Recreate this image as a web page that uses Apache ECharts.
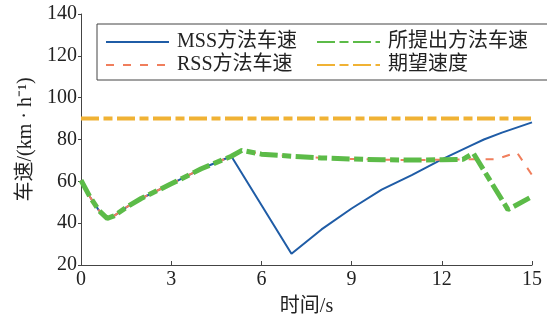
<!DOCTYPE html>
<html>
<head>
<meta charset="utf-8">
<script src="https://cdn.jsdelivr.net/npm/echarts@6/dist/echarts.min.js"></script>
<style>
  html, body { margin: 0; padding: 0; background: #fff; }
  #chart { width: 547px; height: 326px; }
</style>
</head>
<body>
<div id="chart"></div>
<script>
// Vehicle speed over time for three control methods plus the target speed
const seriesNames = ['MSS方法车速', '所提出方法车速', 'RSS方法车速', '期望速度'];

const mssTime  = [0, 0.3, 0.6, 0.87, 1.1, 1.5, 2, 3, 4, 5.0, 7.0, 8, 9, 10, 11, 12, 13, 13.4, 14, 15];
const mssSpeed = [60.5, 52.5, 46, 42.3, 43.5, 47.5, 51.8, 58.8, 66, 72, 25.4, 37, 47, 56, 63, 70.5, 77.3, 80, 83.3, 88.2];

const propTime  = [0, 0.3, 0.6, 0.87, 1.1, 1.5, 2, 3, 4, 5, 5.35, 6, 7, 8, 9, 10, 11, 12, 12.7, 13.05, 14.2, 15];
const propSpeed = [60.5, 52.5, 46, 42.3, 43.5, 47.5, 51.8, 58.8, 66, 72, 74.8, 73, 72, 71.2, 70.7, 70.3, 70.2, 70.3, 70.5, 73.4, 46.5, 52.7];

const rssTime  = [0, 0.3, 0.6, 0.87, 1.1, 1.5, 2, 3, 4, 5, 5.35, 6, 7, 8, 9, 10, 11, 12, 12.7, 13.8, 14.5, 15];
const rssSpeed = [60.5, 52.5, 46, 42.3, 43.5, 47.5, 51.8, 58.8, 66, 72, 74.8, 73, 72, 71.2, 70.7, 70.3, 70.2, 70.3, 70.5, 70.5, 73.8, 63.0];

const targetTime  = [0, 15];
const targetSpeed = [90, 90];

const xTicks = { min: 0, max: 15, interval: 3 };
const yTicks = { min: 20, max: 140, interval: 20 };

const pairs = (xs, ys) => xs.map((x, i) => [x, ys[i]]);

const FONT = '"Liberation Serif", "Noto Sans CJK SC", serif';
const dashDot = [18, 4.5, 9, 4.5];

const chart = echarts.init(document.getElementById('chart'), null, { renderer: 'canvas' });

chart.setOption({
  animation: false,
  backgroundColor: '#ffffff',
  textStyle: { fontFamily: FONT },
  grid: { left: 81, top: 14, width: 451, height: 251, containLabel: false },
  legend: {
    data: [seriesNames[0], seriesNames[1], seriesNames[2], seriesNames[3]],
    left: 97,
    top: 24,
    width: 440,
    orient: 'horizontal',
    padding: [8, 36, 5, 8],
    itemGap: 3,
    itemWidth: 63,
    itemHeight: 14,
    borderColor: '#444',
    borderWidth: 1,
    backgroundColor: '#fff',
    itemStyle: { opacity: 0 },
    textStyle: {
      fontFamily: FONT,
      fontSize: 20,
      color: '#222',
      width: 136,
      lineHeight: 20,
      padding: [0, 0, 0, 3],
      overflow: 'none'
    }
  },
  xAxis: {
    type: 'value',
    min: xTicks.min,
    max: xTicks.max,
    interval: xTicks.interval,
    name: '时间/s',
    nameLocation: 'middle',
    nameGap: 32,
    nameTextStyle: { fontFamily: FONT, fontSize: 20, color: '#222' },
    axisLine: { show: true, lineStyle: { color: '#444', width: 1 } },
    axisTick: { show: true, inside: true, length: 4, lineStyle: { color: '#444' } },
    axisLabel: { fontFamily: FONT, fontSize: 20, color: '#222', margin: 5 },
    splitLine: { show: false }
  },
  yAxis: {
    type: 'value',
    min: yTicks.min,
    max: yTicks.max,
    interval: yTicks.interval,
    name: '车速/(km · h⁻¹)',
    nameLocation: 'middle',
    nameGap: 41,
    nameTextStyle: { fontFamily: FONT, fontSize: 20, color: '#222' },
    axisLine: { show: true, lineStyle: { color: '#444', width: 1 } },
    axisTick: { show: true, inside: false, length: 3, lineStyle: { color: '#444' } },
    axisLabel: { fontFamily: FONT, fontSize: 20, color: '#222', margin: 4 },
    splitLine: { show: false }
  },
  series: [
    {
      name: seriesNames[0],
      type: 'line',
      data: pairs(mssTime, mssSpeed),
      showSymbol: false,
      symbol: 'none',
      color: '#1f5ca6',
      lineStyle: { color: '#1f5ca6', width: 2 },
      z: 2
    },
    {
      name: seriesNames[2],
      type: 'line',
      data: pairs(rssTime, rssSpeed),
      showSymbol: false,
      symbol: 'none',
      color: '#f07e5c',
      lineStyle: { color: '#f07e5c', width: 2, type: [8, 9] },
      z: 3
    },
    {
      name: seriesNames[1],
      type: 'line',
      data: pairs(propTime, propSpeed),
      showSymbol: false,
      symbol: 'none',
      color: '#5cbb48',
      lineStyle: { color: '#5cbb48', width: 5, type: dashDot },
      z: 4
    },
    {
      name: seriesNames[3],
      type: 'line',
      data: pairs(targetTime, targetSpeed),
      showSymbol: false,
      symbol: 'none',
      color: '#f0b234',
      lineStyle: { color: '#f0b234', width: 4, type: dashDot },
      z: 5
    }
  ]
});
</script>
</body>
</html>
